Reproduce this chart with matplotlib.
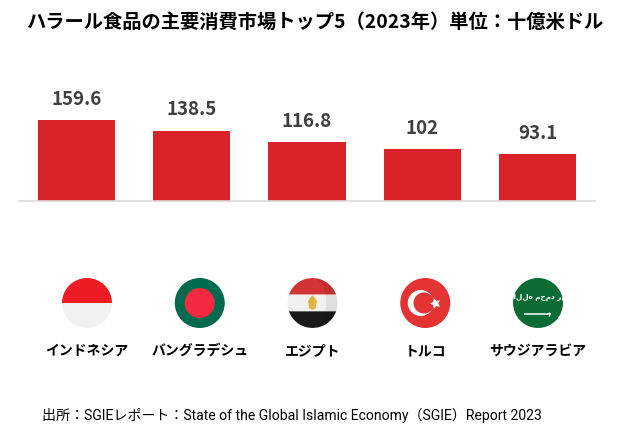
import matplotlib
matplotlib.use('Agg')
import matplotlib.pyplot as plt
from matplotlib.patches import Circle, Wedge, Polygon
import numpy as np

# データ
countries = ['インドネシア', 'バングラデシュ', 'エジプト', 'トルコ', 'サウジアラビア']
values = [159.6, 138.5, 116.8, 102, 93.1]
value_labels = ['159.6', '138.5', '116.8', '102', '93.1']

title = 'ハラール食品の主要消費市場トップ5（2023年）単位：十億米ドル'
source = '出所：SGIEレポート：State of the Global Islamic Economy（SGIE）Report 2023'

JP = ['Noto Sans CJK JP', 'DejaVu Sans']
BAR_RED = '#da2229'

W, H = 643, 448
fig = plt.figure(figsize=(W / 100, H / 100), dpi=100)

# 棒グラフ
x = np.arange(len(values))
ax = fig.add_axes([19 / W, (H - 201) / H, 576 / W, 92 / H])
ax.bar(x, values, width=0.67, color=BAR_RED, zorder=2)
ax.set_xlim(-0.5, 4.5)
ax.set_ylim(0, 181)
for sp in ['top', 'left', 'right']:
    ax.spines[sp].set_visible(False)
ax.spines['bottom'].set_color('#d9d9d9')
ax.spines['bottom'].set_linewidth(1.2)
ax.set_xticks([])
ax.set_yticks([])
ax.patch.set_alpha(0)
for xi, v, lab in zip(x, values, value_labels):
    ax.annotate(lab, (xi, v), xytext=(0, 8), textcoords='offset points',
                ha='center', va='bottom', fontsize=13.5, fontweight='bold',
                color='#404040', family=JP)

fig.text(315 / W, 1 - 22 / H, title, ha='center', va='center', fontsize=13.9,
         fontweight='bold', family=JP, color='black')

# 国旗
fx = fig.add_axes([30.6 / W, (H - 370) / H, 563.8 / W, 100 / H])
unit = 563.8 / 5  # px per category
fx.set_xlim(-0.5, 4.5)
hh = 50 / unit
fx.set_ylim(-hh, hh)
fx.axis('off')
r = 25 / unit
cy = 17 / unit


def band(cx, y0, y1, col):
    # 円の中の水平帯 (y0 < y1, 中心からの相対値)
    ys = np.linspace(y0, y1, 30)
    xs = np.sqrt(np.clip(r ** 2 - ys ** 2, 0, None))
    pts = [(cx - a, cy + b) for a, b in zip(xs, ys)] + \
          [(cx + a, cy + b) for a, b in zip(xs[::-1], ys[::-1])]
    fx.add_patch(Polygon(pts, closed=True, color=col, lw=0))


def flag_indonesia(cx):
    fx.add_patch(Wedge((cx, cy), r, 0, 180, color='#ed1c24', lw=0))
    fx.add_patch(Wedge((cx, cy), r, 180, 360, color='#f0f2f0', lw=0))


def flag_bangladesh(cx):
    fx.add_patch(Circle((cx, cy), r, color='#006a4e', lw=0))
    fx.add_patch(Circle((cx, cy), r * 0.6, color='#f42a41', lw=0))


def flag_egypt(cx):
    band(cx, r / 3, r, '#d03434')
    band(cx, -r / 3, r / 3, '#f0f0f0')
    band(cx, -r, -r / 3, '#1a1a1a')
    # 右側の陰影
    ys = np.linspace(-r, r, 40)
    xs = np.sqrt(np.clip(r ** 2 - ys ** 2, 0, None))
    xin = np.maximum(xs * 0.55, 0)
    pts = [(cx + a, cy + b) for a, b in zip(xin, ys)] + \
          [(cx + a, cy + b) for a, b in zip(xs[::-1], ys[::-1])]
    fx.add_patch(Polygon(pts, closed=True, color='black', alpha=0.07, lw=0))
    # 鷲
    s = r * 0.2
    eagle = Polygon([(cx - s * 0.9, cy + s * 0.4), (cx - s * 0.3, cy + s * 1.2), (cx, cy + s * 1.5),
                     (cx + s * 0.3, cy + s * 1.2), (cx + s * 0.9, cy + s * 0.4),
                     (cx + s * 0.6, cy - s * 1.1), (cx, cy - s * 1.4), (cx - s * 0.6, cy - s * 1.1)],
                    closed=True, color='#e2b33a', lw=0)
    fx.add_patch(eagle)


def flag_turkey(cx):
    fx.add_patch(Circle((cx, cy), r, color='#e53232', lw=0))
    fx.add_patch(Circle((cx - r * 0.18, cy), r * 0.52, color='white', lw=0))
    fx.add_patch(Circle((cx - r * 0.05, cy), r * 0.42, color='#e53232', lw=0))
    fx.plot([cx + r * 0.4], [cy], marker=(5, 1, 90), color='white', ms=8, mew=0)


def flag_saudi(cx):
    fx.add_patch(Circle((cx, cy), r, color='#0a6b35', lw=0))
    fx.text(cx, cy + r * 0.25, 'لا إله إلا الله محمد رسول الله', ha='center', va='center',
            fontsize=5.2, color='white', family='DejaVu Sans', fontweight='bold')
    fx.plot([cx - r * 0.55, cx + r * 0.5], [cy - r * 0.42] * 2, color='white', lw=1.1,
            solid_capstyle='butt')
    fx.plot([cx + r * 0.42], [cy - r * 0.42], marker='|', color='white', ms=3, mew=1)


drawers = [flag_indonesia, flag_bangladesh, flag_egypt, flag_turkey, flag_saudi]
for xi, draw, name in zip(x, drawers, countries):
    draw(xi)
    fx.text(xi, -31 / unit, name, ha='center', va='center', fontsize=10,
            fontweight='bold', family=JP, color='black')

fig.text(42 / W, 1 - 415 / H, source, ha='left', va='center', fontsize=10.1,
         family=['Roboto', 'Noto Sans CJK JP'], color='black')

fig.savefig('out.png', dpi=100, facecolor='white')
